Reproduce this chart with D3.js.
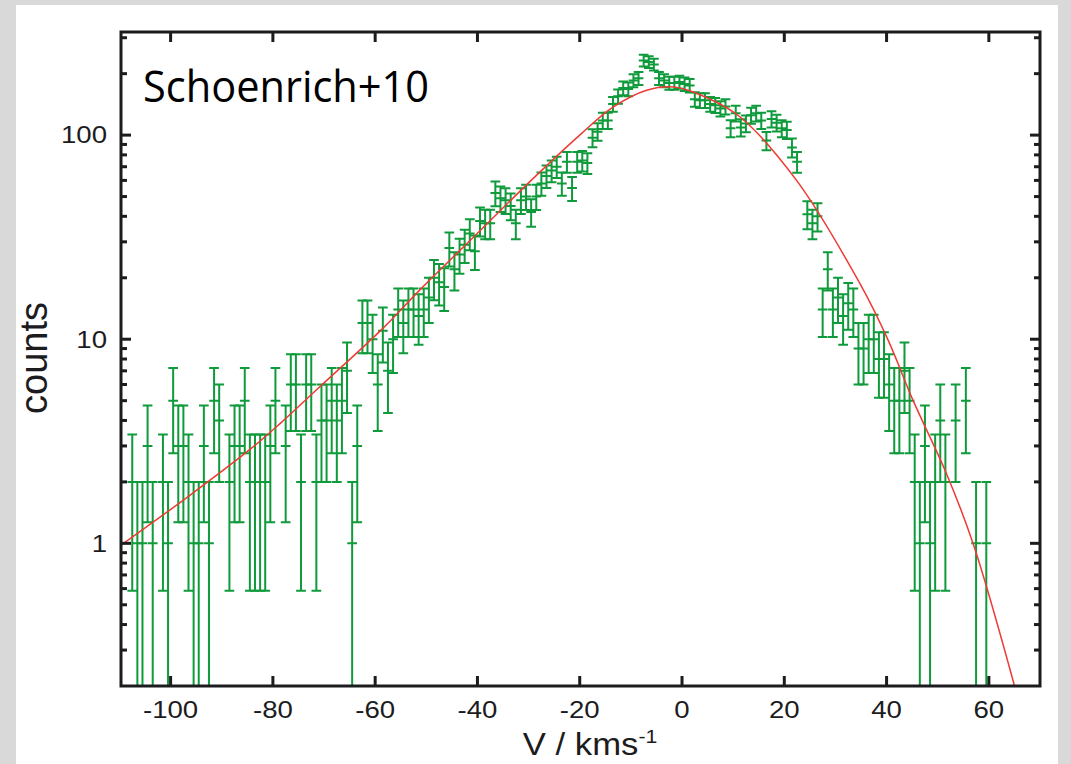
<!DOCTYPE html>
<html>
<head>
<meta charset="utf-8">
<script src="https://cdn.jsdelivr.net/npm/d3@7"></script>
<style>
  body { margin: 0; background: #d9d9d9; }
  svg { display: block; }
</style>
</head>
<body>
<svg id="chart" width="1071" height="764"></svg>
<script>
// histogram: 1 km/s bins, first bin starts at -108
const binStart = -108;
const binWidth = 1;
const counts = [
  2, 1, 1, 3, 1, 0, 2, 1, 5, 3, 3, 2,          // -108 .. -96
  1, 1, 3, 1, 5, 4, 0, 2, 3, 3, 5, 2,          // -96 .. -84
  2, 2, 2, 3, 5, 0, 3, 6, 6, 2, 6, 6,          // -84 .. -72
  2, 4, 4, 5, 4, 5, 7, 1, 3, 12, 12, 10,       // -72 .. -60
  6, 11, 7, 10, 14, 12, 14, 14, 13, 14, 16, 20, // -60 .. -48
  19, 18, 28, 22, 26, 29, 33, 27, 38, 37, 37, 52, // -48 .. -36
  49, 48, 45, 37, 48, 50, 42, 50, 58, 63, 67, 70, // -36 .. -24
  58, 74, 55, 74, 75, 73, 97, 104, 118, 118, 142, 155, // -24 .. -12
  170, 168, 185, 190, 232, 228, 222, 190, 185, 180, 180, 182, // -12 .. 0
  178, 175, 150, 148, 148, 142, 140, 135, 138, 108, 128, 109, // 0 .. 12
  114, 125, 128, 118, 94, 120, 115, 108, 106, 87, 74, 0,    // 12 .. 24
  41, 37, 40, 14, 22, 14, 16, 13, 15, 14, 9, 9,   // 24 .. 36
  10, 10, 8, 8, 6, 5, 5, 7, 5, 2, 1, 3,          // 36 .. 48
  1, 2, 4, 2, 0, 4, 0, 5, 0, 1, 0, 1             // 48 .. 60
];

// fitted model
const fitV = [-109.7, -96.5, -84, -78.6, -71.3, -58.5, -51.3, -39.5, -29.8, -20,
  -13.5, -6.9, -1.5, 5, 11.3, 22.4, 34.8, 40.3, 45.2, 51.7, 56.9, 64.9, 66];
const fitN = [0.98, 1.7, 2.95, 3.86, 5.7, 11.3, 17.4, 34, 59, 100,
  137, 166, 172, 152, 123, 60, 18.7, 9.9, 5.0, 2.2, 1.0, 0.205, 0.16];

const xTicks = [-100, -80, -60, -40, -20, 0, 20, 40, 60];
const yTicks = [1, 10, 100];
const yMinor = [0.3, 0.4, 0.5, 0.6, 0.7, 0.8, 0.9, 2, 3, 4, 5, 6, 7, 8, 9,
  20, 30, 40, 50, 60, 70, 80, 90, 200, 300];

const green = "#0f9b3b";
const red = "#ee3a33";
const ink = "#1c1c1e";

const svg = d3.select("#chart");

// white slide panel
svg.append("rect")
  .attr("x", 16).attr("y", 5)
  .attr("width", 1042).attr("height", 764)
  .attr("fill", "#fff");

const plot = { left: 121, right: 1040, top: 32, bottom: 686 };

const x = d3.scaleLinear().domain([-109.7, 70]).range([plot.left, plot.right]);
const y = d3.scaleLog().domain([0.2, 320]).range([plot.bottom, plot.top]);

svg.append("clipPath").attr("id", "clip")
  .append("rect")
  .attr("x", plot.left).attr("y", plot.top)
  .attr("width", plot.right - plot.left)
  .attr("height", plot.bottom - plot.top);

const bins = counts
  .map((n, i) => ({ v: binStart + binWidth * (i + 0.5), n }))
  .filter((d) => d.n > 0);

const marks = svg.append("g").attr("clip-path", "url(#clip)");

// error bars (Poisson, sqrt N)
const capHalf = 0.95;
const bars = marks.append("g")
  .attr("stroke", green)
  .attr("stroke-width", 2)
  .attr("fill", "none");

bars.selectAll("path.eb")
  .data(bins)
  .join("path")
  .attr("class", "eb")
  .attr("d", (d) => {
    const s = Math.sqrt(d.n);
    const xc = x(d.v), x0 = x(d.v - capHalf), x1 = x(d.v + capHalf);
    const yt = y(d.n + s), yc = y(d.n);
    const lo = d.n - s;
    const yb = lo > 0 ? y(lo) : plot.bottom + 10;
    let p = `M${xc},${yt}V${yb}`;
    p += `M${x0},${yt}H${x1}`;
    p += `M${x0},${yc}H${x1}`;
    if (lo > 0) p += `M${x0},${yb}H${x1}`;
    return p;
  });

// fit curve
marks.append("path")
  .datum(fitV.map((v, i) => [v, fitN[i]]))
  .attr("fill", "none")
  .attr("stroke", red)
  .attr("stroke-width", 1.5)
  .attr("d", d3.line()
    .x((d) => x(d[0]))
    .y((d) => y(d[1]))
    .curve(d3.curveCatmullRom.alpha(0.5)));

// ticks, inward on all four sides
const ticks = svg.append("g").attr("stroke", ink).attr("stroke-width", 3);

ticks.selectAll("line.xb").data(xTicks).join("line")
  .attr("class", "xb")
  .attr("x1", (d) => x(d)).attr("x2", (d) => x(d))
  .attr("y1", plot.bottom).attr("y2", plot.bottom - 10);
ticks.selectAll("line.xt").data(xTicks).join("line")
  .attr("class", "xt")
  .attr("x1", (d) => x(d)).attr("x2", (d) => x(d))
  .attr("y1", plot.top).attr("y2", plot.top + 10);

const yAll = yTicks.map((v) => ({ v, len: 10 }))
  .concat(yMinor.map((v) => ({ v, len: 6 })));
ticks.selectAll("line.yl").data(yAll).join("line")
  .attr("class", "yl")
  .attr("x1", plot.left).attr("x2", (d) => plot.left + d.len)
  .attr("y1", (d) => y(d.v)).attr("y2", (d) => y(d.v));
ticks.selectAll("line.yr").data(yAll).join("line")
  .attr("class", "yr")
  .attr("x1", plot.right).attr("x2", (d) => plot.right - d.len)
  .attr("y1", (d) => y(d.v)).attr("y2", (d) => y(d.v));

// frame
svg.append("rect")
  .attr("x", plot.left).attr("y", plot.top)
  .attr("width", plot.right - plot.left)
  .attr("height", plot.bottom - plot.top)
  .attr("fill", "none")
  .attr("stroke", ink)
  .attr("stroke-width", 3);

// tick labels (the figure is stretched sideways a bit)
const labelFont = "'Liberation Sans', Arial, sans-serif";
svg.append("g")
  .selectAll("text").data(xTicks).join("text")
  .attr("transform", (d) => `translate(${x(d)},718) scale(1.2,1)`)
  .attr("text-anchor", "middle")
  .attr("font-family", labelFont)
  .attr("font-size", 23)
  .attr("fill", ink)
  .text((d) => d);

svg.append("g")
  .selectAll("text").data(yTicks).join("text")
  .attr("transform", (d) => `translate(107,${y(d)}) scale(1.2,1)`)
  .attr("dy", "0.36em")
  .attr("text-anchor", "end")
  .attr("font-family", labelFont)
  .attr("font-size", 23)
  .attr("fill", ink)
  .text((d) => d);

// axis titles
const xt = svg.append("text")
  .attr("transform", "translate(590,755) scale(1.12,1)")
  .attr("text-anchor", "middle")
  .attr("font-family", labelFont)
  .attr("font-size", 31)
  .attr("fill", ink);
xt.append("tspan").text("V / kms");
xt.append("tspan").attr("dy", -12).attr("font-size", 19).text("-1");

svg.append("text")
  .attr("transform", "translate(47,358) rotate(-90)")
  .attr("text-anchor", "middle")
  .attr("font-family", labelFont)
  .attr("font-size", 38)
  .attr("fill", ink)
  .text("counts");

// annotation
svg.append("text")
  .attr("x", 143).attr("y", 102)
  .attr("font-family", "'Open Sans', 'Noto Sans', sans-serif")
  .attr("font-size", 43)
  .attr("textLength", 286)
  .attr("lengthAdjust", "spacingAndGlyphs")
  .attr("fill", "#000")
  .text("Schoenrich+10");
</script>
</body>
</html>
